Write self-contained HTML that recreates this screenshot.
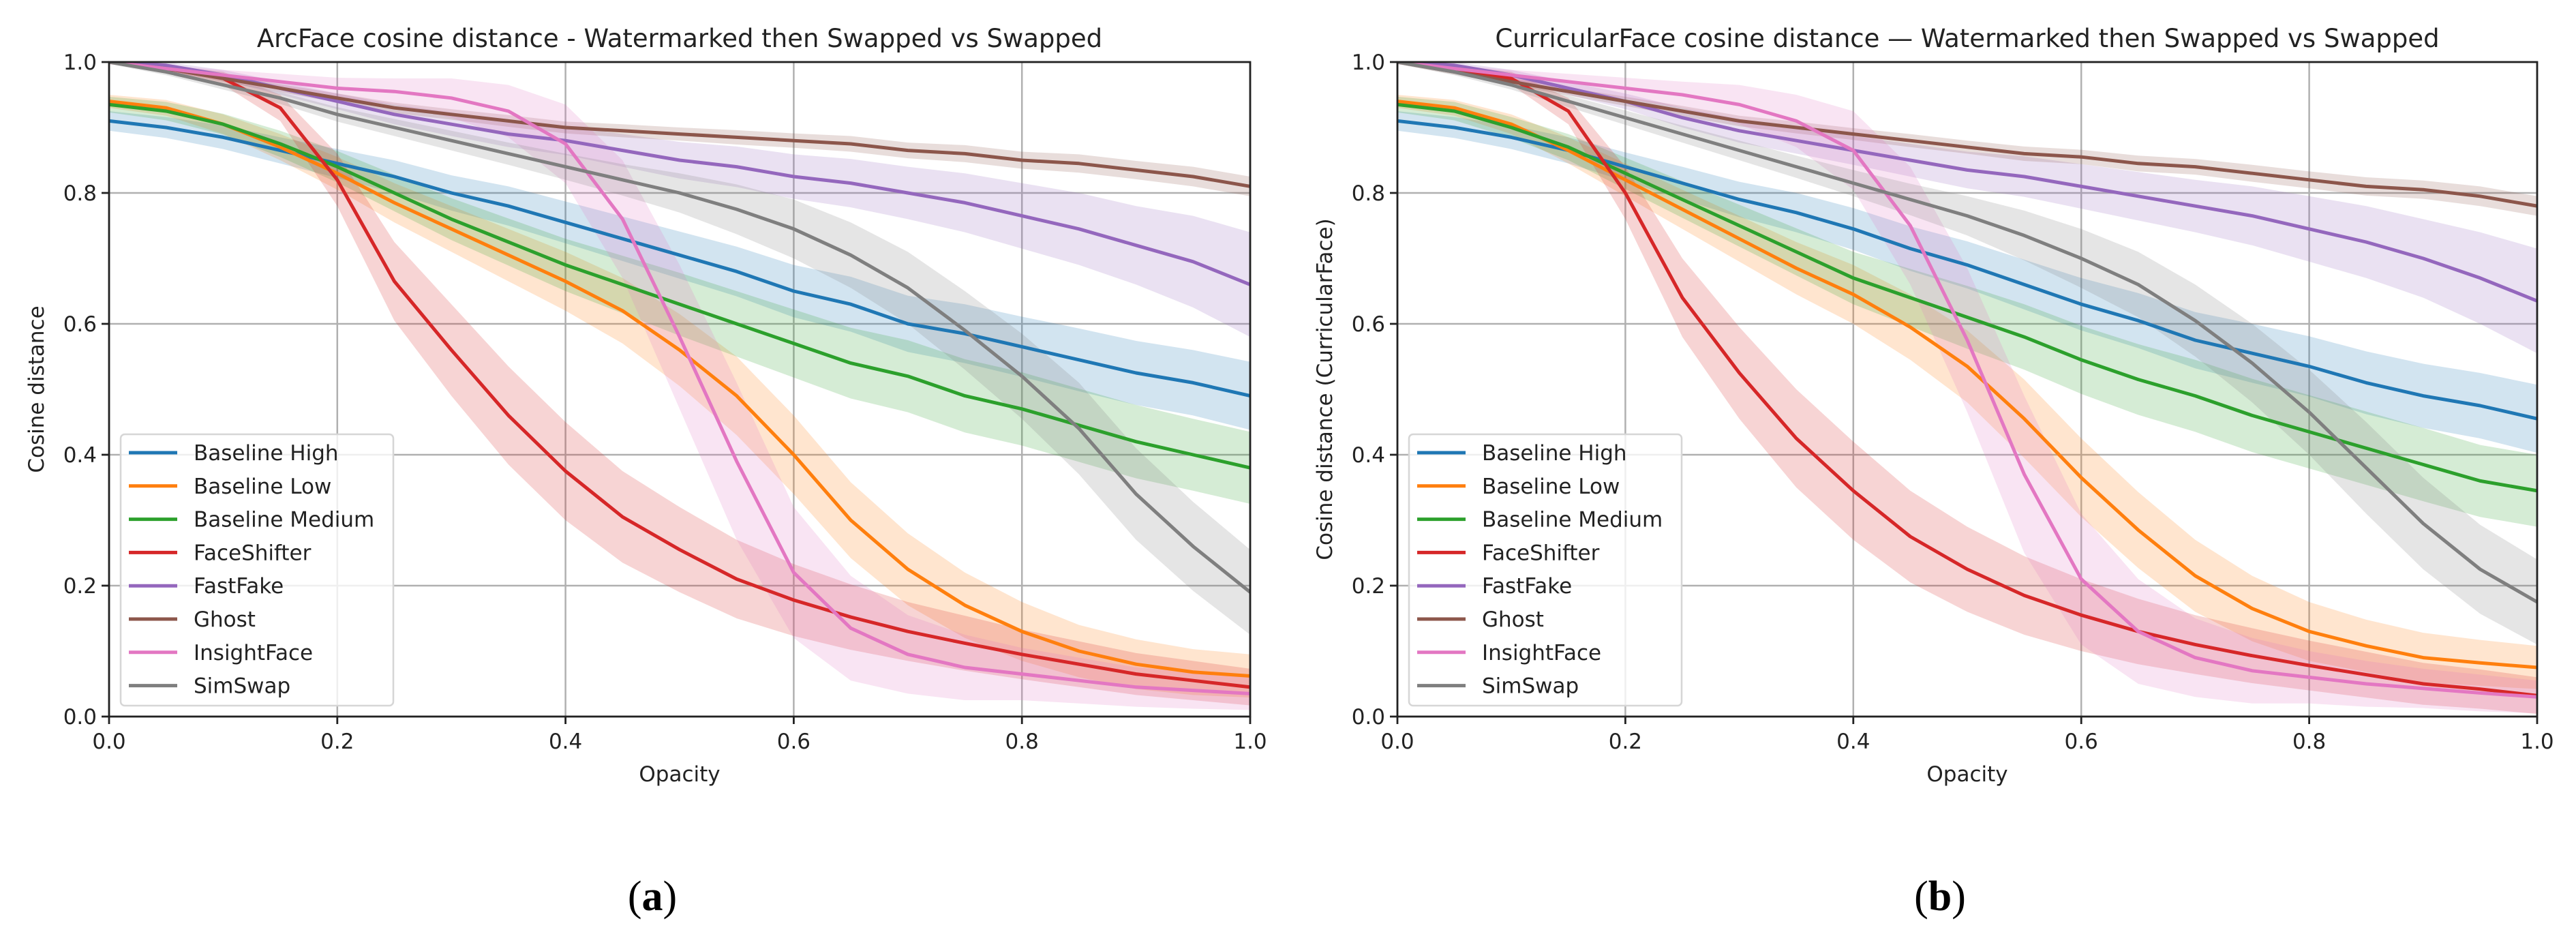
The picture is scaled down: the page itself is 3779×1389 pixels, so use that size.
<!DOCTYPE html>
<html><head><meta charset="utf-8"><style>
html,body{margin:0;padding:0;background:#fff;}
svg{display:block;font-family:"DejaVu Sans","Liberation Sans",sans-serif;}
</style></head><body>
<svg id="fig" width="3779" height="1389" viewBox="0 0 3779 1389" xmlns="http://www.w3.org/2000/svg"></svg>
<script>
// ---- data ----
const opacity = [0,0.05,0.1,0.15,0.2,0.25,0.3,0.35,0.4,0.45,0.5,0.55,0.6,0.65,0.7,0.75,0.8,0.85,0.9,0.95,1.0];
const seriesNames = ["Baseline High","Baseline Low","Baseline Medium","FaceShifter","FastFake","Ghost","InsightFace","SimSwap"];
const xTicks = [0,0.2,0.4,0.6,0.8,1.0];
const xTickLabels = ["0.0","0.2","0.4","0.6","0.8","1.0"];
const yTicks = [0,0.2,0.4,0.6,0.8,1.0];
const yTickLabels = ["0.0","0.2","0.4","0.6","0.8","1.0"];

// ArcFace means
const arcHigh = [0.91,0.90,0.885,0.865,0.845,0.825,0.80,0.78,0.755,0.73,0.705,0.68,0.65,0.63,0.60,0.585,0.565,0.545,0.525,0.51,0.49];
const arcLow = [0.94,0.93,0.905,0.87,0.83,0.785,0.745,0.705,0.665,0.62,0.56,0.49,0.40,0.30,0.225,0.17,0.13,0.10,0.08,0.068,0.062];
const arcMedium = [0.935,0.925,0.905,0.875,0.84,0.80,0.76,0.725,0.69,0.66,0.63,0.60,0.57,0.54,0.52,0.49,0.47,0.445,0.42,0.40,0.38];
const arcFaceShifter = [1.0,0.99,0.975,0.93,0.82,0.665,0.56,0.46,0.375,0.305,0.255,0.21,0.178,0.152,0.13,0.112,0.095,0.08,0.065,0.055,0.045];
const arcFastFake = [1.0,0.995,0.98,0.96,0.94,0.92,0.905,0.89,0.88,0.865,0.85,0.84,0.825,0.815,0.80,0.785,0.765,0.745,0.72,0.695,0.66];
const arcGhost = [1.0,0.99,0.975,0.96,0.945,0.93,0.92,0.91,0.90,0.895,0.89,0.885,0.88,0.875,0.865,0.86,0.85,0.845,0.835,0.825,0.81];
const arcInsight = [1.0,0.99,0.98,0.97,0.96,0.955,0.945,0.925,0.875,0.76,0.58,0.39,0.22,0.135,0.095,0.075,0.065,0.055,0.045,0.04,0.035];
const arcSimSwap = [1.0,0.985,0.965,0.945,0.92,0.90,0.88,0.86,0.84,0.82,0.80,0.775,0.745,0.705,0.655,0.59,0.52,0.44,0.34,0.26,0.19];

// CurricularFace means
const curHigh = [0.91,0.90,0.885,0.865,0.84,0.815,0.79,0.77,0.745,0.715,0.69,0.66,0.63,0.605,0.575,0.555,0.535,0.51,0.49,0.475,0.455];
const curLow = [0.94,0.93,0.905,0.865,0.82,0.775,0.73,0.685,0.645,0.595,0.535,0.455,0.365,0.285,0.215,0.165,0.13,0.108,0.09,0.082,0.075];
const curMedium = [0.935,0.925,0.90,0.87,0.83,0.79,0.75,0.71,0.67,0.64,0.61,0.58,0.545,0.515,0.49,0.46,0.435,0.41,0.385,0.36,0.345];
const curFaceShifter = [1.0,0.99,0.975,0.925,0.80,0.64,0.525,0.425,0.345,0.275,0.225,0.185,0.155,0.13,0.11,0.093,0.078,0.064,0.05,0.042,0.032];
const curFastFake = [1.0,0.995,0.98,0.96,0.94,0.915,0.895,0.88,0.865,0.85,0.835,0.825,0.81,0.795,0.78,0.765,0.745,0.725,0.70,0.67,0.635];
const curGhost = [1.0,0.985,0.97,0.955,0.94,0.925,0.91,0.90,0.89,0.88,0.87,0.86,0.855,0.845,0.84,0.83,0.82,0.81,0.805,0.795,0.78];
const curInsight = [1.0,0.99,0.98,0.97,0.96,0.95,0.935,0.91,0.865,0.75,0.575,0.37,0.21,0.13,0.09,0.07,0.06,0.05,0.043,0.036,0.03];
const curSimSwap = [1.0,0.985,0.965,0.94,0.915,0.89,0.865,0.84,0.815,0.79,0.765,0.735,0.70,0.66,0.605,0.54,0.465,0.38,0.295,0.225,0.175];

// band half-widths (std)
const sdHigh = [0.015,0.016,0.018,0.02,0.022,0.025,0.027,0.03,0.032,0.034,0.036,0.038,0.04,0.042,0.043,0.045,0.046,0.048,0.049,0.05,0.052];
const sdLow = [0.01,0.012,0.015,0.02,0.025,0.03,0.035,0.04,0.045,0.05,0.055,0.06,0.06,0.058,0.055,0.05,0.045,0.04,0.038,0.035,0.033];
const sdMedium = [0.012,0.014,0.016,0.02,0.024,0.028,0.032,0.036,0.04,0.044,0.048,0.05,0.052,0.054,0.055,0.056,0.056,0.056,0.056,0.055,0.055];
const sdFaceShifter = [0.003,0.005,0.01,0.02,0.04,0.06,0.07,0.075,0.075,0.07,0.065,0.06,0.055,0.05,0.045,0.042,0.038,0.035,0.032,0.03,0.028];
const sdFastFake = [0.003,0.005,0.008,0.01,0.012,0.015,0.018,0.02,0.022,0.025,0.028,0.031,0.034,0.037,0.04,0.045,0.05,0.055,0.06,0.07,0.08];
const sdGhost = [0.003,0.004,0.005,0.006,0.007,0.008,0.008,0.009,0.009,0.01,0.01,0.011,0.011,0.012,0.012,0.013,0.013,0.014,0.014,0.015,0.015];
const sdInsight = [0.003,0.005,0.008,0.012,0.016,0.02,0.03,0.04,0.06,0.09,0.11,0.12,0.10,0.08,0.06,0.05,0.04,0.035,0.03,0.028,0.025];
const sdSimSwap = [0.003,0.005,0.007,0.009,0.011,0.013,0.015,0.017,0.02,0.024,0.03,0.038,0.045,0.05,0.055,0.06,0.065,0.07,0.07,0.068,0.065];

const colors = ["#1f77b4","#ff7f0e","#2ca02c","#d62728","#9467bd","#8c564b","#e377c2","#7f7f7f"];
const NS = "http://www.w3.org/2000/svg";
const fig = document.getElementById('fig');
function mk(tag, attrs, parent){ const e=document.createElementNS(NS,tag); for(const k in attrs) e.setAttribute(k,attrs[k]); (parent||fig).appendChild(e); return e; }

function drawChart(opt){
  const L=opt.left, R=opt.right, T=91, B=1051;
  const xs=v=>L+v*(R-L), ys=v=>B-v*(B-T);
  const g=mk('g',{});
  
  
  const clipId='clip'+opt.id;
  const cp=mk('clipPath',{id:clipId},g); mk('rect',{x:L,y:T,width:R-L,height:B-T},cp);
  xTicks.forEach(t=>{ const l=mk('line',{x1:xs(t),x2:xs(t),y1:T,y2:B,stroke:'#b0b0b0','stroke-width':2.5},g);
      });
  yTicks.forEach(t=>{ const l=mk('line',{x1:L,x2:R,y1:ys(t),y2:ys(t),stroke:'#b0b0b0','stroke-width':2.5},g);
      });
  const plot=mk('g',{'clip-path':'url(#'+clipId+')'},g);
  opt.series.forEach((s,i)=>{
    const up=opacity.map((x,j)=>xs(x)+','+ys(s[j]+opt.sds[i][j]));
    const dn=opacity.map((x,j)=>xs(x)+','+ys(s[j]-opt.sds[i][j])).reverse();
    const p=mk('polygon',{points:up.concat(dn).join(' '),fill:colors[i],'fill-opacity':0.2,stroke:'none'},plot);
    
    
  });
  opt.series.forEach((s,i)=>{
    const pts=opacity.map((x,j)=>xs(x)+','+ys(s[j])).join(' ');
    const p=mk('polyline',{points:pts,fill:'none',stroke:colors[i],'stroke-width':5,'stroke-linejoin':'round','stroke-linecap':'square'},plot);
    
    
  });
  const sp=mk('rect',{x:L,y:T,width:R-L,height:B-T,fill:'none',stroke:'#222','stroke-width':2.8},g);
   
  xTicks.forEach((t,i)=>{ mk('line',{x1:xs(t),x2:xs(t),y1:B,y2:B+11,stroke:'#222','stroke-width':2.8},g);
    const tx=mk('text',{x:xs(t),y:B+47,'text-anchor':'middle','font-size':31,fill:'#222'},g); tx.textContent=xTickLabels[i];
      });
  yTicks.forEach((t,i)=>{ mk('line',{x1:L-11,x2:L,y1:ys(t),y2:ys(t),stroke:'#222','stroke-width':2.8},g);
    const tx=mk('text',{x:L-18,y:ys(t)+11,'text-anchor':'end','font-size':31,fill:'#222'},g); tx.textContent=yTickLabels[i];
      });
  const cx=(L+R)/2;
  const ti=mk('text',{x:cx,y:69,'text-anchor':'middle','font-size':37,fill:'#222'},g); ti.textContent=opt.title;
   
  const xl=mk('text',{x:cx,y:1146,'text-anchor':'middle','font-size':31,fill:'#222'},g); xl.textContent='Opacity';
   
  const yl=mk('text',{x:0,y:0,'text-anchor':'middle','font-size':31,fill:'#222',transform:'translate('+(L-96)+','+((T+B)/2)+') rotate(-90)'},g); yl.textContent=opt.ylabel;
   
  const lg=mk('g',{},g);
   
  const lx=L+17, ly=637;
  mk('rect',{x:lx,y:ly,width:400,height:398,rx:6,fill:'#fff','fill-opacity':0.8,stroke:'#d6d6d6','stroke-width':2.5},lg);
  seriesNames.forEach((n,i)=>{
    const y=ly+27+i*48.8;
    const e=mk('g',{},lg);
     
    mk('line',{x1:lx+12,x2:lx+83,y1:y,y2:y,stroke:colors[i],'stroke-width':5},e);
    const t=mk('text',{x:lx+107,y:y+11,'font-size':31,fill:'#222'},e); t.textContent=n;
  });
  const cap=mk('text',{x:cx-40,y:1335,'text-anchor':'middle','font-size':62,'font-family':'"Liberation Serif",serif',fill:'#000'},g);
  cap.innerHTML='(<tspan font-weight="bold">'+opt.cap+'</tspan>)';
   
}

drawChart({id:'a',name:'arcface-chart',left:160,right:1834,title:'ArcFace cosine distance - Watermarked then Swapped vs Swapped',ylabel:'Cosine distance',cap:'a',
  series:[arcHigh,arcLow,arcMedium,arcFaceShifter,arcFastFake,arcGhost,arcInsight,arcSimSwap],
  sds:[sdHigh,sdLow,sdMedium,sdFaceShifter,sdFastFake,sdGhost,sdInsight,sdSimSwap]});
drawChart({id:'b',name:'curricularface-chart',left:2050,right:3722,title:'CurricularFace cosine distance \u2014 Watermarked then Swapped vs Swapped',ylabel:'Cosine distance (CurricularFace)',cap:'b',
  series:[curHigh,curLow,curMedium,curFaceShifter,curFastFake,curGhost,curInsight,curSimSwap],
  sds:[sdHigh,sdLow,sdMedium,sdFaceShifter,sdFastFake,sdGhost,sdInsight,sdSimSwap]});
</script>
</body></html>
